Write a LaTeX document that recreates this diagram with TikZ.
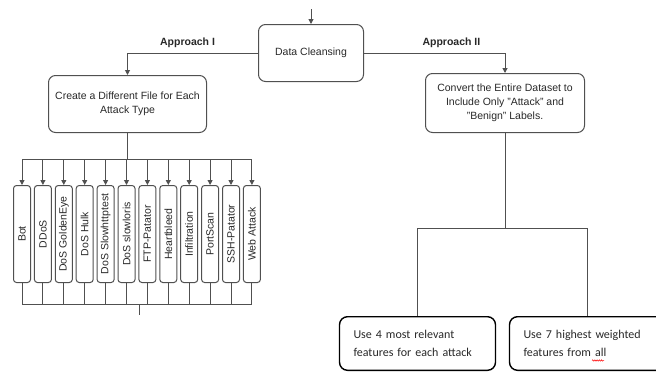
\documentclass[tikz,border=0pt]{standalone}
\usepackage{fontspec}
\setmainfont{Liberation Sans}
\newfontfamily\wordfont{Carlito}
\usetikzlibrary{positioning, arrows.meta, decorations.pathmorphing}

\definecolor{boxgray}{RGB}{80,80,80}
\definecolor{textgray}{RGB}{40,40,40}
\newcommand{\vlabel}[1]{\rotatebox{90}{#1}}

\tikzset{
  flowbox/.style={rectangle, rounded corners=7pt, draw=boxgray, line width=1pt, align=center, text=textgray, inner sep=0pt, font=\fontsize{10.5}{14}\selectfont},
  attackbox/.style={rectangle, rounded corners=3pt, draw=boxgray, line width=1pt, minimum width=17pt, minimum height=97pt, inner sep=0pt, text=textgray, font=\fontsize{10.5}{12}\selectfont},
  notebox/.style={rectangle, rounded corners=8pt, draw=black, line width=1.4pt, minimum height=53.6pt, text width=128pt, inner xsep=14pt, inner ysep=0pt, align=left, text=textgray, font=\wordfont\fontsize{12}{18}\selectfont},
  link/.style={draw=boxgray, line width=1pt},
  arrowlink/.style={link, -{Triangle[length=5pt, width=5pt]}},
  steplabel/.style={text=textgray, font=\bfseries\fontsize{10.5}{12}\selectfont}
}

\begin{document}
\begin{tikzpicture}[x=1pt, y=-1pt]
\useasboundingbox (0,0) rectangle (656,372);
\clip (0,0) rectangle (656,372);

% main steps
\node[flowbox, minimum width=105pt, minimum height=57pt] (clean) at (311,53) {Data Cleansing};
\node[flowbox, minimum width=158pt, minimum height=57pt] (create) at (127.5,104) {Create a Different File for Each\\Attack Type};
\node[flowbox, minimum width=159pt, minimum height=59pt] (convert) at (505,103) {Convert the Entire Dataset to\\Include Only "Attack" and\\"Benign" Labels.};

% attack files
\node[attackbox] (bot) at (22,234) {\vlabel{Bot}};
\node[attackbox, right=2.9pt of bot] (ddos) {\vlabel{DDoS}};
\node[attackbox, right=2.9pt of ddos] (goldeneye) {\vlabel{DoS GoldenEye}};
\node[attackbox, right=2.9pt of goldeneye] (hulk) {\vlabel{DoS Hulk}};
\node[attackbox, right=2.9pt of hulk] (slowhttp) {\vlabel{DoS Slowhttptest}};
\node[attackbox, right=2.9pt of slowhttp] (slowloris) {\vlabel{DoS slowloris}};
\node[attackbox, right=2.9pt of slowloris] (ftp) {\vlabel{FTP-Patator}};
\node[attackbox, right=2.9pt of ftp] (heartbleed) {\vlabel{Heartbleed}};
\node[attackbox, right=2.9pt of heartbleed] (infiltration) {\vlabel{Infiltration}};
\node[attackbox, right=2.9pt of infiltration] (portscan) {\vlabel{PortScan}};
\node[attackbox, right=2.9pt of portscan] (ssh) {\vlabel{SSH-Patator}};
\node[attackbox, right=2.9pt of ssh] (web) {\vlabel{Web Attack}};

% feature selection notes
\node[notebox] (four) at (417.5,343.5) {Use 4 most relevant\\features for each attack};
\node[notebox] (seven) at (587.5,343.5) {Use 7 highest weighted\\features from all};
\draw[red, line width=0.5pt, decorate, decoration={snake, amplitude=0.7pt, segment length=2.2pt}] (592,360.5) -- (604,360.5);

% helper points
\coordinate (entry) at (311,9);
\coordinate (fanTop) at (127.5,159);
\coordinate (fanBot) at (139,304);
\coordinate (tickEnd) at (139,315);
\coordinate (split) at (505,228);

\draw[arrowlink] (entry) -- (clean.north);
\draw[arrowlink] (clean.west) -| (create.north) node[steplabel, pos=0.27, above=1pt] {Approach I};
\draw[arrowlink] (clean.east) -| (convert.north) node[steplabel, pos=0.31, above=1pt] {Approach II};

% fan out to attack files
\draw[link] (create.south) -- (fanTop);
\draw[link] (fanTop -| bot.north) -- (fanTop -| web.north);
\draw[arrowlink] (fanTop -| bot.north) -- (bot.north);
\draw[arrowlink] (fanTop -| ddos.north) -- (ddos.north);
\draw[arrowlink] (fanTop -| goldeneye.north) -- (goldeneye.north);
\draw[arrowlink] (fanTop -| hulk.north) -- (hulk.north);
\draw[arrowlink] (fanTop -| slowhttp.north) -- (slowhttp.north);
\draw[arrowlink] (fanTop -| slowloris.north) -- (slowloris.north);
\draw[arrowlink] (fanTop -| ftp.north) -- (ftp.north);
\draw[arrowlink] (fanTop -| heartbleed.north) -- (heartbleed.north);
\draw[arrowlink] (fanTop -| infiltration.north) -- (infiltration.north);
\draw[arrowlink] (fanTop -| portscan.north) -- (portscan.north);
\draw[arrowlink] (fanTop -| ssh.north) -- (ssh.north);
\draw[arrowlink] (fanTop -| web.north) -- (web.north);

% merge below attack files
\draw[link] (bot.south) -- (fanBot -| bot.south);
\draw[link] (ddos.south) -- (fanBot -| ddos.south);
\draw[link] (goldeneye.south) -- (fanBot -| goldeneye.south);
\draw[link] (hulk.south) -- (fanBot -| hulk.south);
\draw[link] (slowhttp.south) -- (fanBot -| slowhttp.south);
\draw[link] (slowloris.south) -- (fanBot -| slowloris.south);
\draw[link] (ftp.south) -- (fanBot -| ftp.south);
\draw[link] (heartbleed.south) -- (fanBot -| heartbleed.south);
\draw[link] (infiltration.south) -- (fanBot -| infiltration.south);
\draw[link] (portscan.south) -- (fanBot -| portscan.south);
\draw[link] (ssh.south) -- (fanBot -| ssh.south);
\draw[link] (web.south) -- (fanBot -| web.south);
\draw[link] (fanBot -| bot.south) -- (fanBot -| web.south);
\draw[link] (fanBot) -- (tickEnd);

% split of approach II
\draw[link] (convert.south) -- (split);
\draw[link] (split -| four.north) -- (split -| seven.north);
\draw[link] (split -| four.north) -- (four.north);
\draw[link] (split -| seven.north) -- (seven.north);
\end{tikzpicture}
\end{document}
